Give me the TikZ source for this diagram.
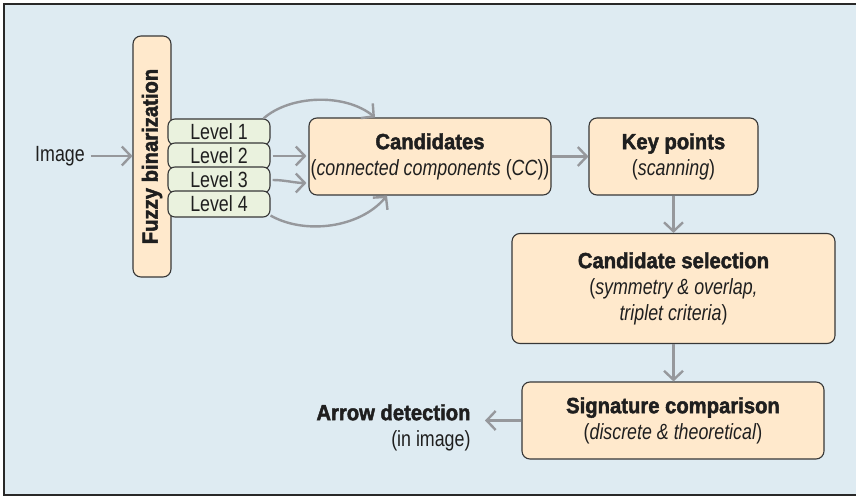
\documentclass[tikz,border=0pt]{standalone}
\usepackage{fontspec}
\setmainfont{Liberation Sans}[FakeStretch=0.81]
\newfontfamily\titlefont{Liberation Sans}[FakeStretch=0.92, BoldFeatures={FakeBold=2}]
\usetikzlibrary{arrows.meta,calc}

\definecolor{bgc}{RGB}{222,235,242}
\definecolor{framec}{RGB}{40,40,40}
\definecolor{boxc}{RGB}{255,233,204}
\definecolor{levc}{RGB}{234,242,222}
\definecolor{edgec}{RGB}{55,55,55}
\definecolor{arrc}{RGB}{150,152,156}

\tikzset{
  txt/.style={font=\fontsize{22}{26}\selectfont, text=black!88},
  stage/.style={txt, draw=edgec, line width=1.1pt, fill=boxc,
    rounded corners=8pt, align=center, inner sep=0pt},
  levelbox/.style={txt, draw=edgec, line width=1.1pt, fill=levc,
    rounded corners=7pt, minimum width=102pt, minimum height=26pt, inner sep=0pt},
  arr/.style={draw=arrc, line width=2.4pt,
    -{Straight Barb[length=9pt,width=19pt,line width=2.4pt]}}
}
\newcommand{\ttlx}[1]{{\titlefont\bfseries #1}}

\begin{document}
\begin{tikzpicture}[x=1pt,y=-1pt]
\useasboundingbox (0,0) rectangle (856,497);
% panel background and frame
\begin{scope}
  \clip (0,0) rectangle (856,497);
  \fill[bgc] (4,4) rectangle (870,495);
  \draw[framec, line width=1.6pt] (870,4) -- (4,4) -- (4,495) -- (870,495);
\end{scope}

% input label
\node[txt, inner sep=0pt] (img) at (60,156) {Image};

% binarization column and its four levels
\node[stage, rotate=90, minimum width=241pt, minimum height=38pt]
  (fuzzy) at (152,156.5) {\ttlx{Fuzzy binarization}};
\node[levelbox] (l1) at (219,132) {Level 1};
\node[levelbox] (l2) at (219,156) {Level 2};
\node[levelbox] (l3) at (219,180) {Level 3};
\node[levelbox] (l4) at (219,204) {Level 4};

% processing stages
\node[stage, minimum width=242pt, minimum height=77pt] (cand) at (430,156.5)
  {\ttlx{Candidates}\\(\textit{connected components} (\textit{CC}))};
\node[stage, minimum width=169pt, minimum height=77pt] (key) at (673.5,156.5)
  {\ttlx{Key points}\\(\textit{scanning})};
\node[stage, minimum width=323pt, minimum height=110pt] (sel) at (673.5,288.5)
  {\ttlx{Candidate selection}\\(\textit{symmetry \& overlap,}\\\textit{triplet criteria})};
\node[stage, minimum width=302pt, minimum height=77pt] (sig) at (673,420.5)
  {\ttlx{Signature comparison}\\(\textit{discrete \& theoretical})};

% output label
\node[txt, align=right, anchor=east, inner xsep=0pt, outer xsep=14.5pt, inner ysep=0pt]
  (det) at (485,427.5) {\ttlx{Arrow detection}\\(in image)};

% connectors
\draw[arr, shorten <=6pt] (img.east) -- (img.east -| fuzzy.north);
\draw[arr] ($(l1.north east)+(-7,0)$)
  .. controls (290,95) and (345,93) .. ($(cand.north)+(-55,0)$);
\draw[arr, shorten <=2pt, shorten >=2pt] (l2.east) -- (l2.east -| cand.west);
\draw[arr, shorten <=2pt] (l3.east) .. controls (285,180) and (295,183)
  .. ($(cand.west)+(-2,26.5)$);
\draw[arr] ($(l4.south east)+(0,-2)$) .. controls (305,235) and (360,228)
  .. ($(cand.south)+(-43,0)$);
\draw[arr] (cand.east) -- (key.west);
\draw[arr] (key.south) -- (sel.north);
\draw[arr] (sel.south) -- (sel.south |- sig.north);
\draw[arr] (sig.west) -- (sig.west -| det.east);
\end{tikzpicture}
\end{document}
